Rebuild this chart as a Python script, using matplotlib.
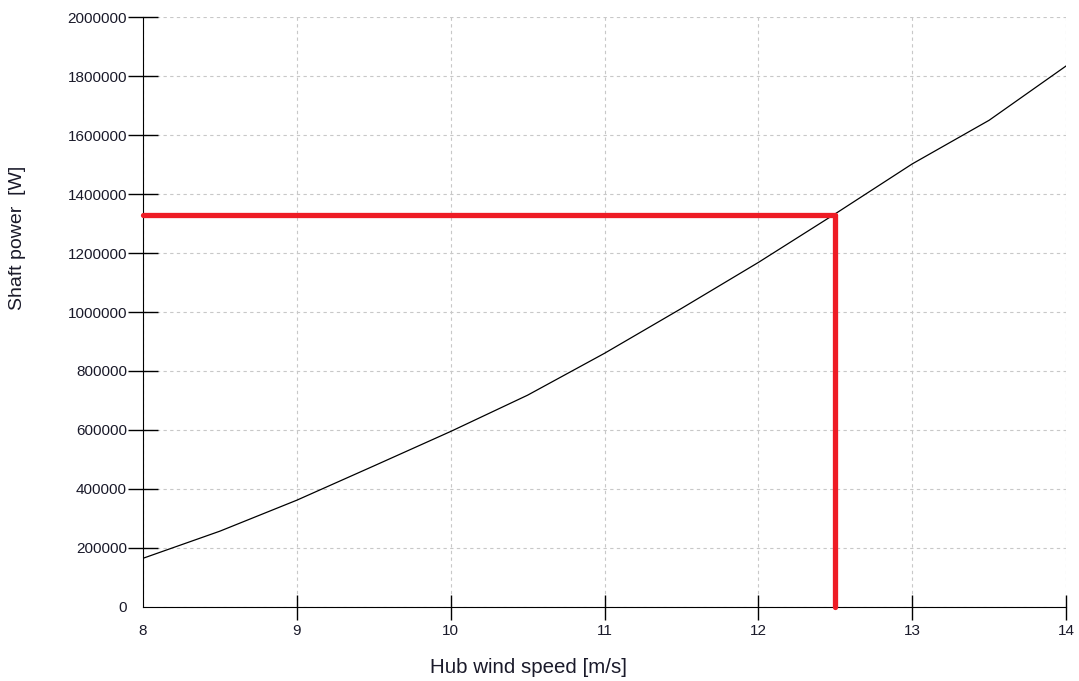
import matplotlib.pyplot as plt

# hub wind speed [m/s] and shaft power [W]
wind = [8, 8.5, 9, 9.5, 10, 10.5, 11, 11.5, 12, 12.5, 13, 13.5, 14]
power = [165000, 257000, 362000, 478000, 595000, 718000, 860000,
         1012000, 1168000, 1333000, 1502000, 1650000, 1834000]

# rated point marked in red
v_mark = 12.5
p_mark = 1330000

x_ticks = [8, 9, 10, 11, 12, 13, 14]
y_ticks = list(range(0, 2000001, 200000))

plt.rcParams['font.family'] = ['Liberation Sans', 'DejaVu Sans']

fig = plt.figure(figsize=(10.79, 6.81), dpi=100)
ax = fig.add_axes([0.1325, 0.1087, 0.8555, 0.8663])

ax.plot(wind, power, color='black', lw=0.9)
ax.plot([8, v_mark], [p_mark, p_mark], color='#ee1c25', lw=3.8,
        solid_capstyle='round', clip_on=False, zorder=5)
ax.plot([v_mark, v_mark], [0, p_mark], color='#ee1c25', lw=3.8,
        solid_capstyle='round', clip_on=False, zorder=5)

ax.set_xlim(8, 14)
ax.set_ylim(0, 2000000)
ax.set_xticks(x_ticks)
ax.set_yticks(y_ticks)
ax.set_yticklabels([str(v) for v in y_ticks])

ax.grid(True, color='#c8c8c8', ls=(0, (3, 3)), lw=0.8)
for s in ['top', 'right']:
    ax.spines[s].set_visible(False)

ax.tick_params(axis='y', direction='inout', length=21, width=1.0,
               labelsize=11, pad=1, labelcolor='#1a1a2a')
ax.tick_params(axis='x', direction='inout', length=18, width=1.0,
               labelsize=11, pad=3, labelcolor='#1a1a2a')
# no tick marks at the origin
ax.yaxis.get_major_ticks()[0].tick1line.set_visible(False)
ax.xaxis.get_major_ticks()[0].tick1line.set_visible(False)

ax.set_xlabel('Hub wind speed [m/s]', fontsize=14.8, color='#1a1a2a')
ax.set_ylabel('Shaft power  [W]', fontsize=14, color='#1a1a2a')
ax.xaxis.label.set_va('center')
ax.yaxis.label.set_va('center')
ax.xaxis.set_label_coords(0.418, -0.1034)
ax.yaxis.set_label_coords(-0.136, 0.6254)

fig.savefig('out.png', dpi=100)
